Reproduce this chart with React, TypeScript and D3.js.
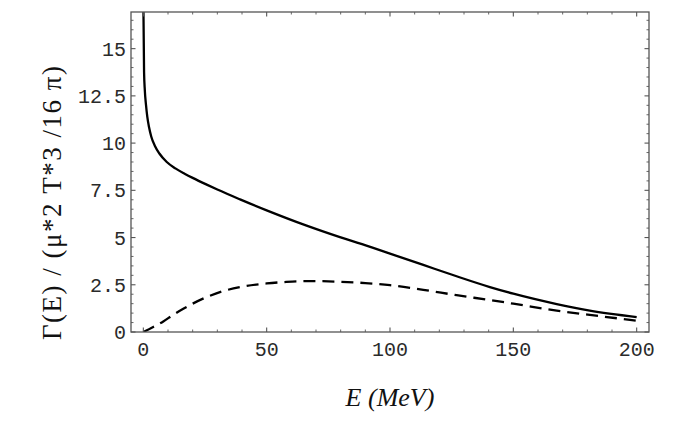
import React from "react";
import * as d3 from "d3";

// ---- data ----
const solidE = [0.05, 0.3, 0.6, 1.1, 1.6, 2.3, 3.2, 4.7, 6.5, 9.5, 13, 16.9, 20, 25.7, 30, 39.2, 50, 66.2, 79.7, 93.2, 100, 113.5, 127, 140.5, 150, 167.6, 181, 200];
const solidV = [16.94, 13.75, 12.8, 12.0, 11.4, 10.85, 10.35, 9.85, 9.45, 9.0, 8.66, 8.37, 8.16, 7.8, 7.54, 7.02, 6.44, 5.63, 5.02, 4.45, 4.15, 3.55, 2.95, 2.38, 2.03, 1.48, 1.13, 0.79];

const dashedE = [0, 4, 8.1, 12, 16.2, 20, 25.7, 32, 39.2, 50, 58, 66.2, 72, 79.7, 90, 100, 113.5, 127, 140, 150, 167.6, 185, 200];
const dashedV = [0, 0.27, 0.56, 0.9, 1.23, 1.5, 1.85, 2.15, 2.38, 2.57, 2.65, 2.69, 2.69, 2.66, 2.59, 2.48, 2.23, 1.95, 1.7, 1.5, 1.13, 0.84, 0.6];

const xMajorTicks = [0, 50, 100, 150, 200];
const xTickLabels = ["0", "50", "100", "150", "200"];
const yMajorTicks = [0, 2.5, 5, 7.5, 10, 12.5, 15];
const yTickLabels = ["0", "2.5", "5", "7.5", "10", "12.5", "15"];

const xLabel = "E (MeV)";
const yLabel = "Γ(E) / (μ*2 T*3 /16 π)";

export default function App() {
  const left = 131, right = 649, top = 12, bottom = 332;
  const x = d3.scaleLinear().domain([-5, 205]).range([left, right]);
  const y = d3.scaleLinear().domain([0, 16.94]).range([bottom, top]);

  const xMinor = d3.range(0, 201, 10).filter((v) => v % 50 !== 0);
  const yMinor = d3.range(0, 17, 0.5).filter((v) => Math.abs(v / 2.5 - Math.round(v / 2.5)) > 1e-6 && v <= 16.9);

  const mk = d3
    .line<[number, number]>()
    .x((d) => x(d[0]))
    .y((d) => y(d[1]))
    .curve(d3.curveMonotoneX);
  const solidPath = mk(solidE.map((e, i) => [e, solidV[i]] as [number, number]));
  const dashedPath = mk(dashedE.map((e, i) => [e, dashedV[i]] as [number, number]));

  const axisColor = "#555";
  const tickFont = "'Liberation Mono', 'DejaVu Sans Mono', monospace";
  const maj = 4.5, min = 2.5;

  return (
    <svg
      width={692}
      height={436}
      style={{ position: "absolute", left: 0, top: 0, background: "#fff" }}
    >
      <defs>
        <clipPath id="plotclip">
          <rect x={left} y={top} width={right - left} height={bottom - top} />
        </clipPath>
      </defs>
      <rect x={0} y={0} width={692} height={436} fill="#fff" />

      {/* curves */}
      <g clipPath="url(#plotclip)">
        <path d={solidPath || ""} fill="none" stroke="#000" strokeWidth={2.3} />
        <path d={dashedPath || ""} fill="none" stroke="#000" strokeWidth={2.3} strokeDasharray="12 7" />
      </g>

      {/* frame */}
      <rect x={left} y={top} width={right - left} height={bottom - top} fill="none" stroke={axisColor} strokeWidth={1.3} />

      {/* x ticks: bottom & top */}
      {xMajorTicks.map((v) => (
        <g key={"xM" + v}>
          <line x1={x(v)} x2={x(v)} y1={bottom} y2={bottom - maj} stroke={axisColor} strokeWidth={1.1} />
          <line x1={x(v)} x2={x(v)} y1={top} y2={top + maj} stroke={axisColor} strokeWidth={1.1} />
        </g>
      ))}
      {xMinor.map((v) => (
        <g key={"xm" + v}>
          <line x1={x(v)} x2={x(v)} y1={bottom} y2={bottom - min} stroke={axisColor} strokeWidth={0.9} />
          <line x1={x(v)} x2={x(v)} y1={top} y2={top + min} stroke={axisColor} strokeWidth={0.9} />
        </g>
      ))}
      {/* y ticks: left & right */}
      {yMajorTicks.map((v) => (
        <g key={"yM" + v}>
          <line x1={left} x2={left + maj} y1={y(v)} y2={y(v)} stroke={axisColor} strokeWidth={1.1} />
          <line x1={right} x2={right - maj} y1={y(v)} y2={y(v)} stroke={axisColor} strokeWidth={1.1} />
        </g>
      ))}
      {yMinor.map((v) => (
        <g key={"ym" + v}>
          <line x1={left} x2={left + min} y1={y(v)} y2={y(v)} stroke={axisColor} strokeWidth={0.9} />
          <line x1={right} x2={right - min} y1={y(v)} y2={y(v)} stroke={axisColor} strokeWidth={0.9} />
        </g>
      ))}

      {/* tick labels */}
      {xMajorTicks.map((v, i) => (
        <text key={"xl" + v} x={x(v)} y={356} textAnchor="middle" fontFamily={tickFont} fontSize={20} fill="#2a2a2a">
          {xTickLabels[i]}
        </text>
      ))}
      {yMajorTicks.map((v, i) => (
        <text key={"yl" + v} x={126} y={y(v) + 7} textAnchor="end" fontFamily={tickFont} fontSize={20} fill="#2a2a2a">
          {yTickLabels[i]}
        </text>
      ))}

      {/* axis labels */}
      <text
        x={390}
        y={406}
        textAnchor="middle"
        fontFamily="'Liberation Serif', 'DejaVu Serif', serif"
        fontStyle="italic"
        fontSize={26}
        fill="#111"
      >
        {xLabel}
      </text>
      <text
        transform="translate(61,203) rotate(-90)"
        textAnchor="middle"
        fontFamily="'Liberation Serif', 'DejaVu Serif', serif"
        fontSize={27}
        textLength={274}
        lengthAdjust="spacing"
        fill="#111"
      >
        {yLabel}
      </text>
    </svg>
  );
}
